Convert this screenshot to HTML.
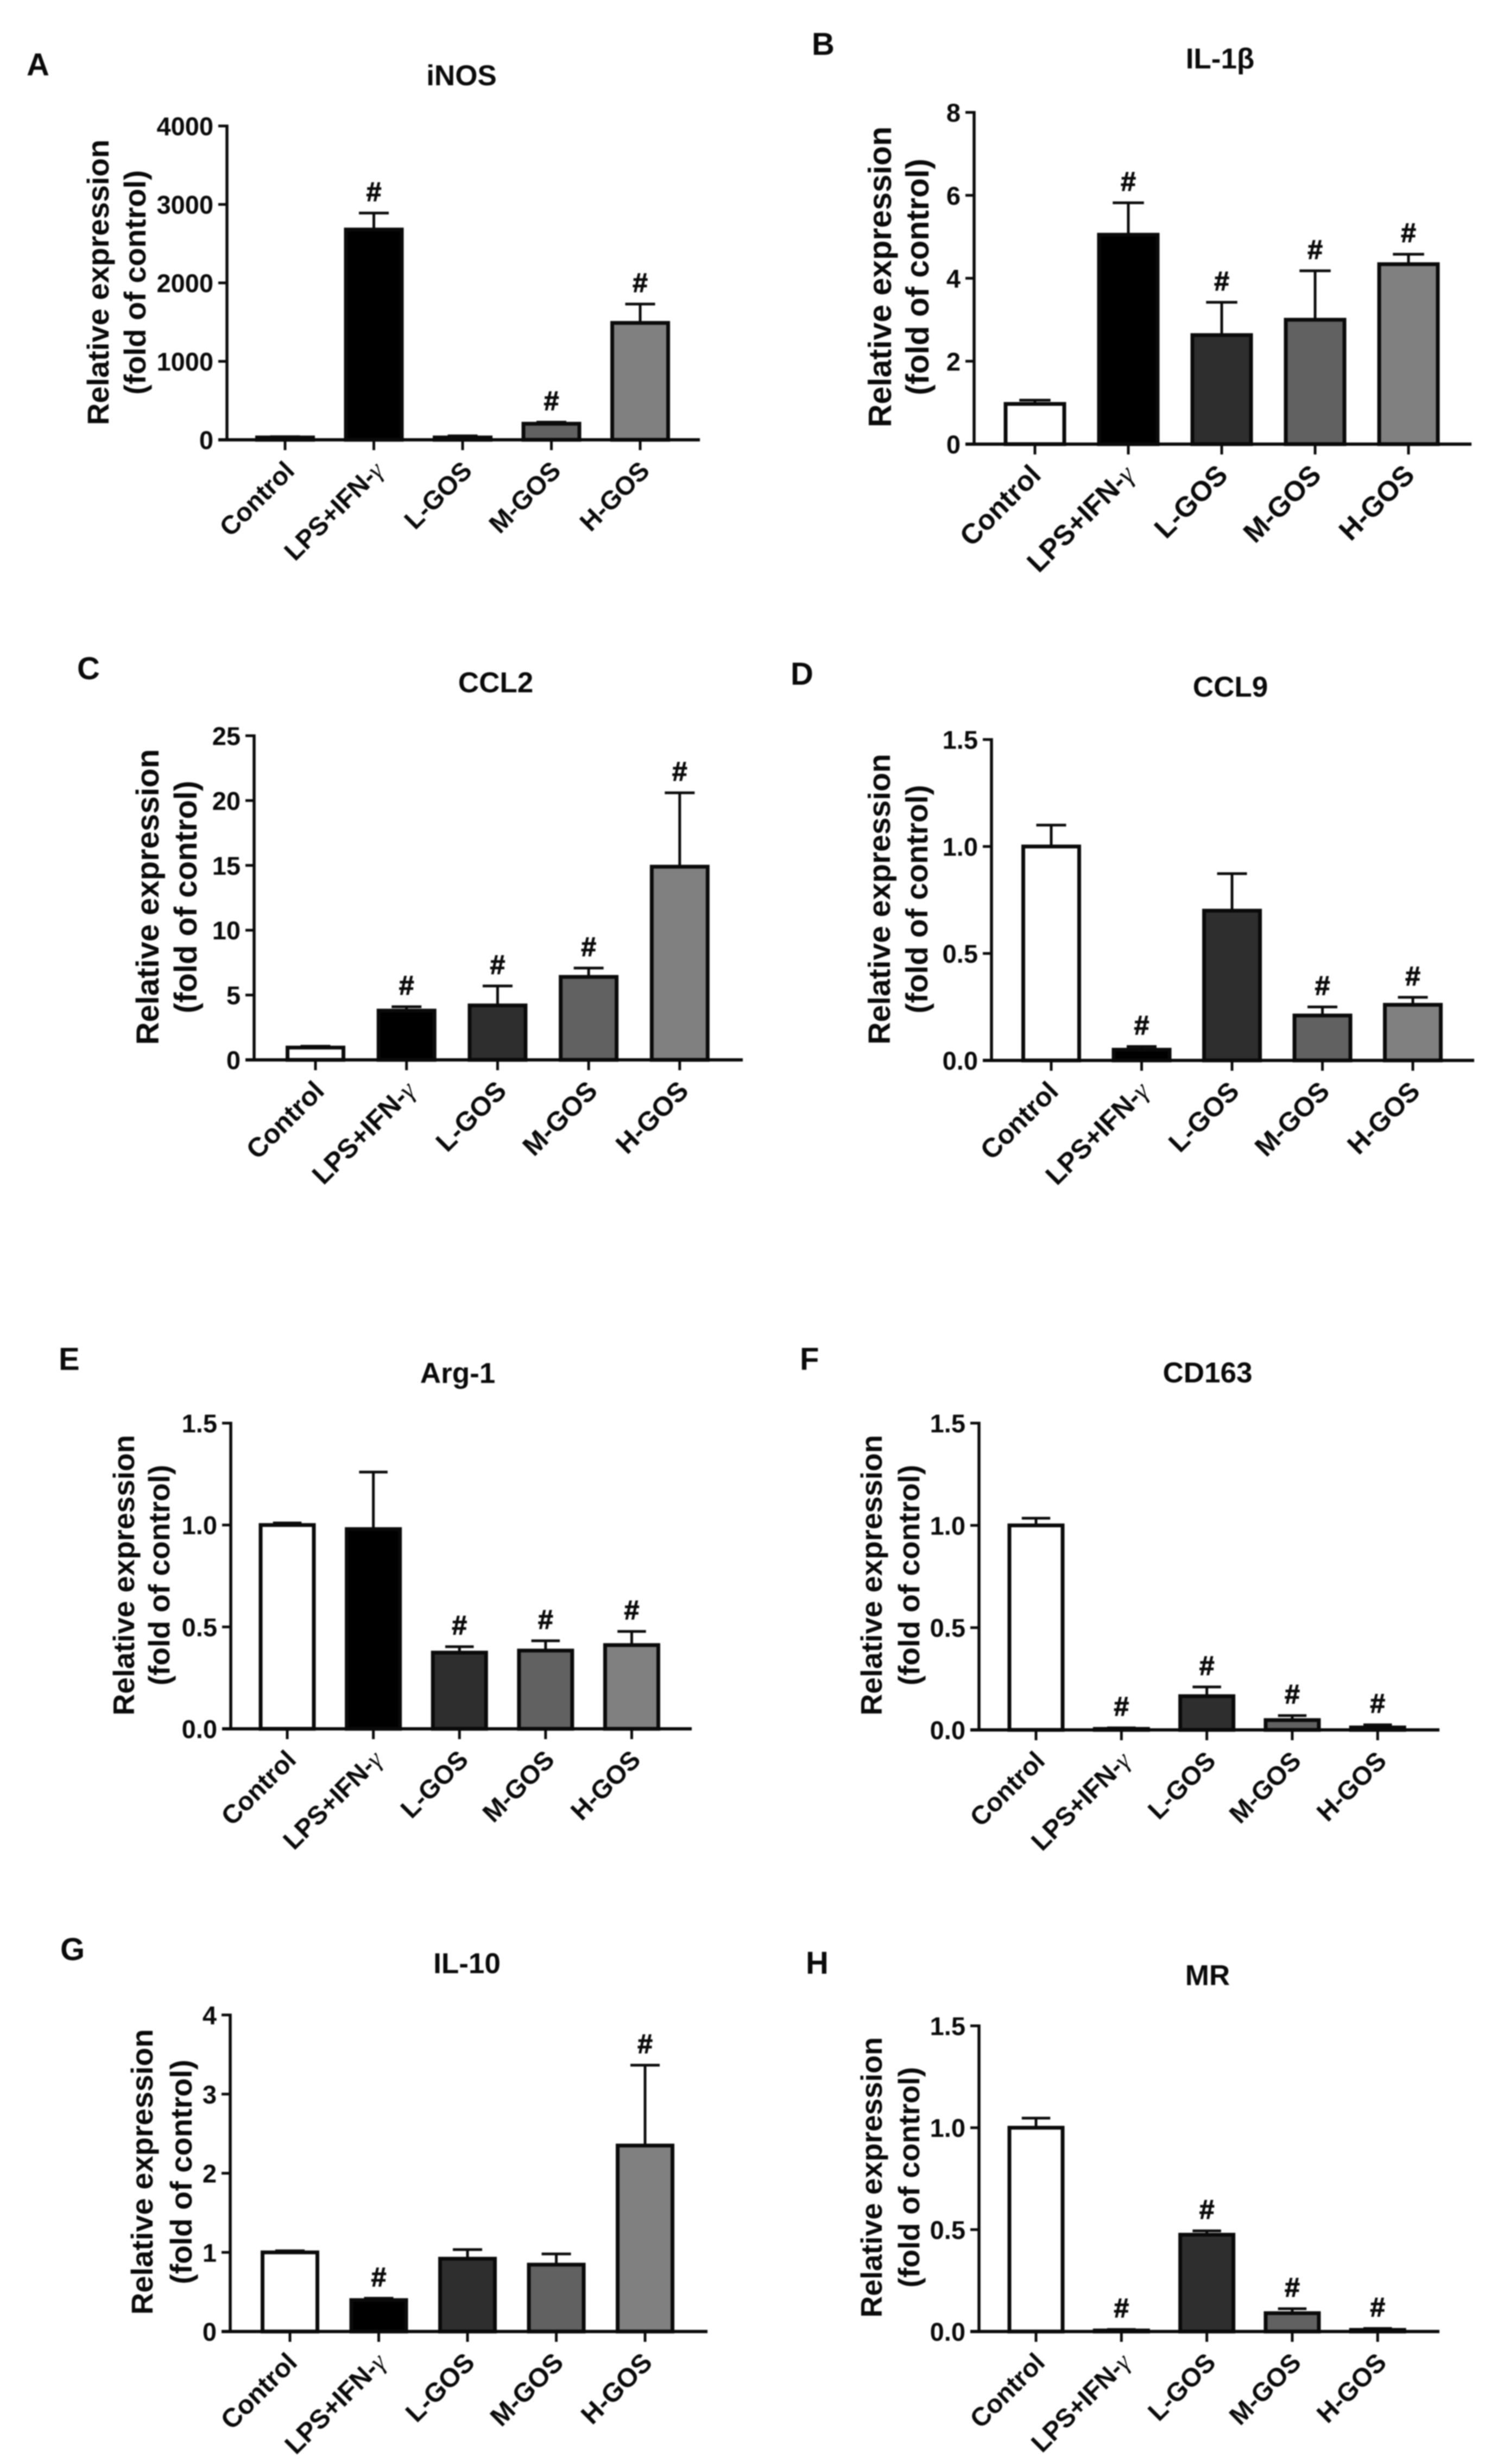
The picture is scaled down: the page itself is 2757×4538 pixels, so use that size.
<!DOCTYPE html>
<html lang="en">
<head>
<meta charset="utf-8">
<title>Relative expression of macrophage markers</title>
<style>
html,body{margin:0;padding:0;background:#fff;width:2757px;height:4538px;overflow:hidden}
svg{display:block;filter:blur(1px)}
text{font-family:"Liberation Sans",sans-serif;font-weight:bold;fill:#0a0a0a}
.letter{font-size:58px}
.title{font-size:53px;text-anchor:middle}
.ylab{font-size:56px;text-anchor:middle}
.tick{font-size:47px;text-anchor:end}
.cat{font-size:48px;text-anchor:end}
.hash{font-size:50px;text-anchor:middle;stroke:#0a0a0a;stroke-width:1.2px}
.gamma{font-family:"Liberation Serif",serif;font-weight:normal;font-style:italic}
</style>
</head>
<body>
<svg id="figure" width="2757" height="4538" viewBox="0 0 2757 4538" xmlns="http://www.w3.org/2000/svg">
<rect width="2757" height="4538" fill="#fff"/>

<g id="panel-a">
<text class="letter" x="49" y="139">A</text>
<text class="title" x="850" y="157">iNOS</text>
<text class="ylab" transform="translate(200 520) rotate(-90)">Relative expression</text>
<text class="ylab" transform="translate(268 520) rotate(-90)">(fold of control)</text>
</g>

<g id="panel-b">
<text class="letter" x="1495" y="101">B</text>
<text class="title" x="2247" y="126">IL-1β</text>
<text class="ylab" style="font-size:59px" transform="translate(1641 510) rotate(-90)">Relative expression</text>
<text class="ylab" style="font-size:59px" transform="translate(1710 510) rotate(-90)">(fold of control)</text>
</g>

<g id="panel-c">
<text class="letter" x="142" y="1251">C</text>
<text class="title" x="913" y="1275">CCL2</text>
<text class="ylab" style="font-size:58px" transform="translate(292 1652) rotate(-90)">Relative expression</text>
<text class="ylab" style="font-size:58px" transform="translate(362 1652) rotate(-90)">(fold of control)</text>
</g>

<g id="panel-d">
<text class="letter" x="1456" y="1261">D</text>
<text class="title" x="2266" y="1283">CCL9</text>
<text class="ylab" style="font-size:57px" transform="translate(1639 1656) rotate(-90)">Relative expression</text>
<text class="ylab" style="font-size:57px" transform="translate(1708 1656) rotate(-90)">(fold of control)</text>
</g>

<g id="panel-e">
<text class="letter" x="108" y="2523">E</text>
<text class="title" x="843" y="2547">Arg-1</text>
<text class="ylab" style="font-size:55px" transform="translate(247 2901) rotate(-90)">Relative expression</text>
<text class="ylab" style="font-size:55px" transform="translate(312 2901) rotate(-90)">(fold of control)</text>
</g>

<g id="panel-f">
<text class="letter" x="1473" y="2523">F</text>
<text class="title" x="2224" y="2546">CD163</text>
<text class="ylab" style="font-size:55px" transform="translate(1624 2901) rotate(-90)">Relative expression</text>
<text class="ylab" style="font-size:55px" transform="translate(1693 2901) rotate(-90)">(fold of control)</text>
</g>

<g id="panel-g">
<text class="letter" x="111" y="3610">G</text>
<text class="title" x="860" y="3634">IL-10</text>
<text class="ylab" transform="translate(281 4000) rotate(-90)">Relative expression</text>
<text class="ylab" transform="translate(353 4000) rotate(-90)">(fold of control)</text>
</g>

<g id="panel-h">
<text class="letter" x="1484" y="3635">H</text>
<text class="title" x="2224" y="3656">MR</text>
<text class="ylab" style="font-size:55px" transform="translate(1624 4010) rotate(-90)">Relative expression</text>
<text class="ylab" style="font-size:55px" transform="translate(1693 4010) rotate(-90)">(fold of control)</text>
</g>
</svg>

<script>
// ---- data ----
const categories = ['Control', 'LPS+IFN-γ', 'L-GOS', 'M-GOS', 'H-GOS'];

const inosMeans = [30, 2680, 30, 205, 1490];
const inosUpper = [40, 2890, 50, 225, 1730];
const inosTicks = ['0', '1000', '2000', '3000', '4000'];
const inosHash = [0, 1, 0, 1, 1];

const il1bMeans = [0.97, 5.05, 2.63, 3.0, 4.34];
const il1bUpper = [1.06, 5.82, 3.42, 4.18, 4.58];
const il1bTicks = ['0', '2', '4', '6', '8'];
const il1bHash = [0, 1, 1, 1, 1];

const ccl2Means = [0.95, 3.8, 4.2, 6.4, 14.9];
const ccl2Upper = [1.05, 4.1, 5.7, 7.08, 20.6];
const ccl2Ticks = ['0', '5', '10', '15', '20', '25'];
const ccl2Hash = [0, 1, 1, 1, 1];

const ccl9Means = [1.0, 0.05, 0.7, 0.21, 0.26];
const ccl9Upper = [1.1, 0.065, 0.873, 0.25, 0.295];
const ccl9Ticks = ['0.0', '0.5', '1.0', '1.5'];
const ccl9Hash = [0, 1, 0, 1, 1];

const arg1Means = [1.0, 0.98, 0.374, 0.384, 0.411];
const arg1Upper = [1.01, 1.26, 0.403, 0.432, 0.478];
const arg1Ticks = ['0.0', '0.5', '1.0', '1.5'];
const arg1Hash = [0, 0, 1, 1, 1];

const cd163Means = [1.0, 0.005, 0.165, 0.048, 0.012];
const cd163Upper = [1.035, 0.01, 0.21, 0.07, 0.025];
const cd163Ticks = ['0.0', '0.5', '1.0', '1.5'];
const cd163Hash = [0, 1, 1, 1, 1];

const il10Means = [1.0, 0.397, 0.92, 0.845, 2.35];
const il10Upper = [1.02, 0.42, 1.035, 0.98, 3.365];
const il10Ticks = ['0', '1', '2', '3', '4'];
const il10Hash = [0, 1, 0, 0, 1];

const mrMeans = [1.0, 0.005, 0.475, 0.09, 0.008];
const mrUpper = [1.047, 0.01, 0.494, 0.112, 0.015];
const mrTicks = ['0.0', '0.5', '1.0', '1.5'];
const mrHash = [0, 1, 1, 1, 1];

// ---- styling and panel geometry (separate from the data) ----
const barFills = ['#ffffff', '#000000', '#2e2e2e', '#616161', '#808080'];
const NS = 'http://www.w3.org/2000/svg';
const INK = '#0a0a0a';

function make(parent, tag, attrs) {
  const el = document.createElementNS(NS, tag);
  for (const k in attrs) el.setAttribute(k, attrs[k]);
  parent.appendChild(el);
  return el;
}

function drawPanel(cfg) {
  const panel = document.getElementById(cfg.id);
  const yMax = parseFloat(cfg.ticks[cfg.ticks.length - 1]);
  const yScale = function (v) { return cfg.base - (v / yMax) * (cfg.base - cfg.top); };
  const xScale = function (i) { return cfg.x0 + i * cfg.step; };
  const capHalf = cfg.barW * 0.25;

  cfg.means.forEach(function (mean, i) {
    const cx = xScale(i);
    const upY = yScale(cfg.upper[i]);

    const stem = make(panel, 'line', { x1: cx, x2: cx, y1: upY, y2: yScale(mean), stroke: INK, 'stroke-width': 5 });
    
    

    const cap = make(panel, 'line', { x1: cx - capHalf, x2: cx + capHalf, y1: upY, y2: upY, stroke: INK, 'stroke-width': 5 });
    
    

    const barTop = yScale(mean);
    const bar = make(panel, 'rect', {
      x: cx - cfg.barW / 2 + 3.5, y: barTop, width: cfg.barW - 7,
      height: Math.max(0, cfg.base - barTop), fill: barFills[i], stroke: INK, 'stroke-width': 7
    });
    
    

    if (cfg.hash[i]) {
      const mark = make(panel, 'text', { class: 'hash', x: cx, y: upY - 22 });
      mark.textContent = '#';
      
      
    }

    const tick = make(panel, 'line', { x1: cx, x2: cx, y1: cfg.base, y2: cfg.base + 19, stroke: INK, 'stroke-width': 5 });
    
    

    const lx = cx + cfg.labelDx, ly = cfg.base + 60;
    const label = make(panel, 'text', { class: 'cat', style: 'font-size:' + cfg.labelSize + 'px', transform: 'translate(' + lx + ' ' + ly + ') rotate(-45)' });
    
    
    const name = categories[i];
    if (name.endsWith('γ')) {
      label.appendChild(document.createTextNode(name.slice(0, -1)));
      const g = make(label, 'tspan', { class: 'gamma' });
      g.textContent = 'γ';
    } else {
      label.textContent = name;
    }
  });

  const yAxis = make(panel, 'line', { x1: cfg.axisX, x2: cfg.axisX, y1: cfg.top - 2.5, y2: cfg.base, stroke: INK, 'stroke-width': 5.5 });
  
  

  const xAxis = make(panel, 'line', { x1: cfg.axisX - 16, x2: cfg.xEnd, y1: cfg.base, y2: cfg.base, stroke: INK, 'stroke-width': 6 });
  
  

  cfg.ticks.forEach(function (t) {
    const y = yScale(parseFloat(t));
    const tm = make(panel, 'line', { x1: cfg.axisX - 16, x2: cfg.axisX, y1: y, y2: y, stroke: INK, 'stroke-width': 5 });
    
    
    const tl = make(panel, 'text', { class: 'tick', x: cfg.axisX - 25, y: y + 17 });
    tl.textContent = t;
    
    
  });
}

drawPanel({ id: 'panel-a', means: inosMeans, upper: inosUpper, ticks: inosTicks, hash: inosHash,
  axisX: 418, top: 232, base: 810, xEnd: 1289, x0: 525, step: 163.5, barW: 110, labelSize: 48, labelDx: 20 });
drawPanel({ id: 'panel-b', means: il1bMeans, upper: il1bUpper, ticks: il1bTicks, hash: il1bHash,
  axisX: 1794, top: 207, base: 818, xEnd: 2710, x0: 1906, step: 172, barW: 115, labelSize: 52, labelDx: 14 });
drawPanel({ id: 'panel-c', means: ccl2Means, upper: ccl2Upper, ticks: ccl2Ticks, hash: ccl2Hash,
  axisX: 468, top: 1355, base: 1952, xEnd: 1368, x0: 581, step: 167.7, barW: 110, labelSize: 50, labelDx: 19 });
drawPanel({ id: 'panel-d', means: ccl9Means, upper: ccl9Upper, ticks: ccl9Ticks, hash: ccl9Hash,
  axisX: 1826, top: 1362, base: 1953, xEnd: 2715, x0: 1936, step: 166.5, barW: 110, labelSize: 50, labelDx: 16 });
drawPanel({ id: 'panel-e', means: arg1Means, upper: arg1Upper, ticks: arg1Ticks, hash: arg1Hash,
  axisX: 425, top: 2621, base: 3184, xEnd: 1274, x0: 529, step: 158.6, barW: 105, labelSize: 48, labelDx: 19 });
drawPanel({ id: 'panel-f', means: cd163Means, upper: cd163Upper, ticks: cd163Ticks, hash: cd163Hash,
  axisX: 1803, top: 2621, base: 3186, xEnd: 2651, x0: 1908, step: 157.3, barW: 105, labelSize: 48, labelDx: 19 });
drawPanel({ id: 'panel-g', means: il10Means, upper: il10Upper, ticks: il10Ticks, hash: il10Hash,
  axisX: 424, top: 3711, base: 4294, xEnd: 1303, x0: 534, step: 163.5, barW: 108, labelSize: 49, labelDx: 16 });
drawPanel({ id: 'panel-h', means: mrMeans, upper: mrUpper, ticks: mrTicks, hash: mrHash,
  axisX: 1803, top: 3731, base: 4294, xEnd: 2651, x0: 1908, step: 157.3, barW: 105, labelSize: 48, labelDx: 19 });
</script>
</body>
</html>
